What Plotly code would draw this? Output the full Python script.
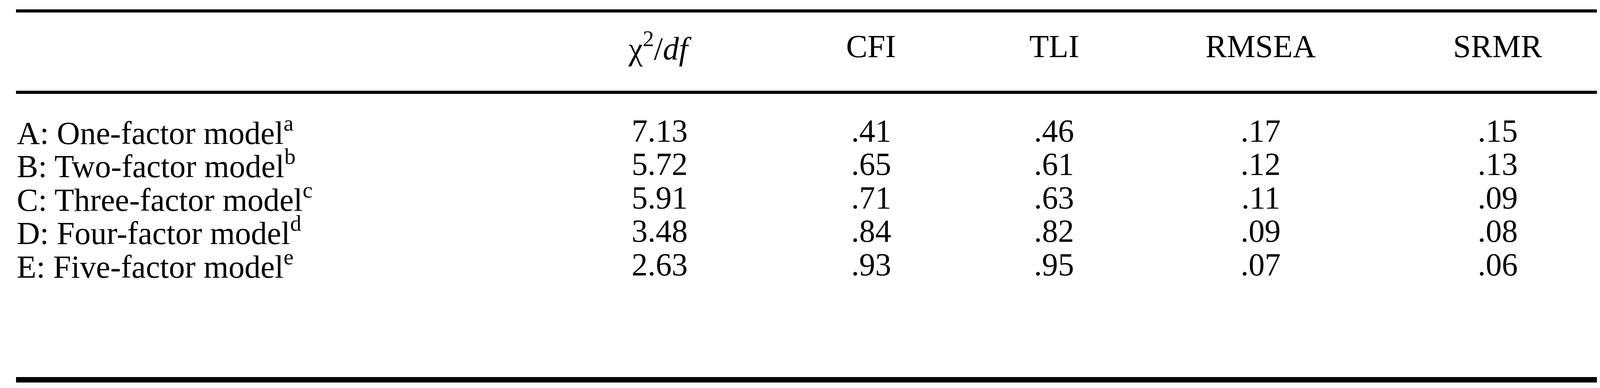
import plotly.graph_objects as go

W, H = 6378, 992
columns = ["χ<sup>2</sup>/<i>df</i>", "CFI", "TLI", "RMSEA", "SRMR"]
models = ["A: One-factor model<sup>a</sup>", "B: Two-factor model<sup>b</sup>",
          "C: Three-factor model<sup>c</sup>", "D: Four-factor model<sup>d</sup>",
          "E: Five-factor model<sup>e</sup>"]
chi_df = ["7.13", "5.72", "5.91", "3.48", "2.63"]
cfi = [".41", ".65", ".71", ".84", ".93"]
tli = [".46", ".61", ".63", ".82", ".95"]
rmsea = [".17", ".12", ".11", ".09", ".07"]
srmr = [".15", ".13", ".09", ".08", ".06"]

col_x = [1681, 2222, 2690, 3219, 3826]
row_y = [326, 411, 497, 582, 668]
header_y = 110
FONT = dict(family="Liberation Serif, Times New Roman, serif", size=82, color="black")

fig = go.Figure()
fig.update_layout(width=W, height=H, margin=dict(l=0, r=0, t=0, b=0),
                  paper_bgcolor="white", plot_bgcolor="white", showlegend=False,
                  xaxis=dict(range=[0, W], visible=False, fixedrange=True),
                  yaxis=dict(range=[H, 0], visible=False, fixedrange=True))

ann = []
for c, x in zip(columns, col_x):
    ann.append(dict(x=x, y=header_y, text=c, showarrow=False, xanchor="center", yanchor="middle", font=FONT))
data_cols = [chi_df, cfi, tli, rmsea, srmr]
for i, (m, y) in enumerate(zip(models, row_y)):
    ann.append(dict(x=33, y=y, text=m, showarrow=False, xanchor="left", yanchor="middle", font=FONT))
    for col, x in zip(data_cols, col_x):
        ann.append(dict(x=x, y=y, text=col[i], showarrow=False, xanchor="center", yanchor="middle", font=FONT))
fig.update_layout(annotations=ann)

shapes = []
for y, w in [(20, 8), (228, 8), (963, 14)]:
    shapes.append(dict(type="line", x0=33, x1=4152, y0=y, y1=y, line=dict(color="black", width=w)))
# near-white edge marker to keep the full canvas width
shapes.append(dict(type="rect", x0=6372, x1=6378, y0=0, y1=992, line=dict(width=0), fillcolor="#fcfcfc"))
fig.update_layout(shapes=shapes)
fig.add_trace(go.Scatter(x=[0], y=[0], mode="markers", marker=dict(opacity=0), hoverinfo="skip"))

fig.write_html("out.html")
